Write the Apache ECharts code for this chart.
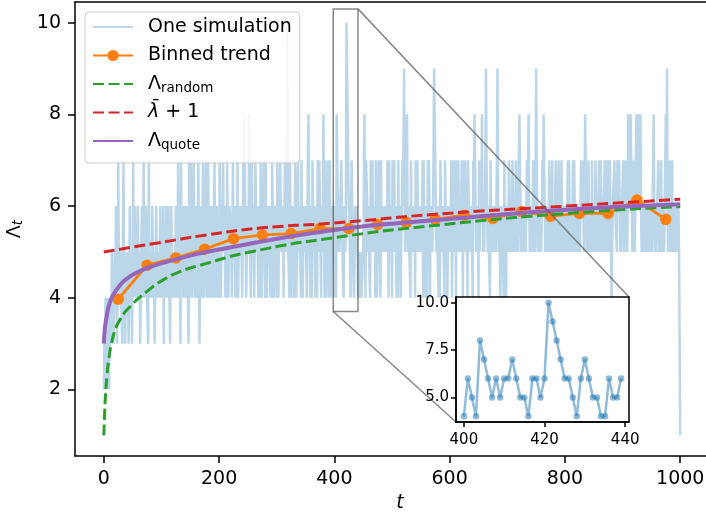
<!DOCTYPE html>
<html><head><meta charset="utf-8">
<script src="https://cdn.jsdelivr.net/npm/echarts@6/dist/echarts.min.js"></script>
<style>html,body{margin:0;padding:0;background:#fff}#c{width:706px;height:512px}</style>
</head><body><div id="c"></div>
<script>
// ---- data ----
const simValues = [
2,3,2,4,3,2,3,4,3,2, 3,4,4,3,5,4,4,3,4,5, 4,6,4,3,4,7,5,4,4,5, 4,4,3,5,7,5,4,3,4,5, 4,5,4,3,4,6,4,5,4,3,
5,7,4,5,6,4,5,4,4,6, 5,4,5,3,4,5,6,5,4,7, 5,4,5,6,5,4,4,3,7,5, 5,4,5,4,6,5,4,5,3,4, 5,6,4,4,4,5,4,4,6,4,
5,4,5,6,3,5,4,5,6,5, 4,5,6,5,4,3,5,6,5,4, 5,5,5,4,5,6,5,4,5,7, 5,4,5,3,7,5,6,5,4,5, 6,5,4,5,6,5,4,3,7,5,
4,7,5,4,5,6,7,5,4,5, 6,5,4,4,7,5,3,5,6,5, 4,4,7,5,4,5,6,7,5,4, 4,7,5,4,5,6,5,4,6,5, 4,4,7,5,4,5,6,5,4,5,
4,7,5,4,5,5,6,7,5,6, 5,4,6,4,7,5,4,5,6,6, 6,5,4,4,7,5,6,5,4,5, 6,4,7,4,5,6,6,5,6,5, 4,4,7,5,8,6,5,4,5,6,
6,5,8,6,5,4,4,7,5,6, 5,4,4,7,7,5,6,5,4,5, 6,4,7,5,4,5,6,7,6,5, 4,7,5,4,5,6,5,6,5,4, 6,4,7,7,5,4,5,6,5,6,
4,7,5,4,6,5,7,6,5,6, 5,6,4,4,7,5,7,5,10,6, 5,5,4,7,5,4,6,5,6,5, 4,4,7,5,4,5,6,7,5,6, 5,5,4,7,5,4,5,6,5,5,
6,5,4,4,7,8,6,5,4,5, 6,4,7,7,5,6,5,4,5,6, 4,7,5,6,7,6,5,4,6,5, 6,8,6,4,7,5,4,5,6,7, 6,4,7,5,4,5,6,5,6,5,
4,6,5,4,8,7,6,5,6,5, 6,6,7,6,5,5,4,6,6,5, 6,10,9,8,7,6,6,5,4,6, 7,6,5,5,4,4,6,5,5,6, 5,4,5,4,4,4,5,4,4,4,
5,6,8,6,4,7,7,6,5,6, 5,5,4,7,5,6,7,5,6,5, 6,4,7,5,4,5,6,7,6,5, 4,7,5,6,5,5,5,6,5,6, 6,5,7,6,4,7,5,5,6,5,
4,7,5,6,7,5,6,5,4,6, 4,7,5,6,5,4,5,6,7,6, 6,9,6,5,6,6,8,6,5,6, 5,5,4,7,5,6,5,5,5,6, 4,7,5,6,7,5,6,5,5,6,
6,5,6,7,4,7,5,6,4,5, 6,4,7,5,7,6,4,6,5,6, 5,6,7,9,8,7,6,5,6,5, 5,4,6,4,7,6,5,5,6,6, 6,4,7,7,5,6,4,5,6,6,
6,5,6,7,4,4,7,5,6,7, 6,4,7,5,6,7,6,5,6,5, 6,7,6,4,7,5,6,7,6,5, 6,4,7,6,5,6,6,5,6,6, 4,7,6,8,7,6,5,6,5,6,
4,7,5,6,7,6,8,6,5,6, 5,6,7,9,7,6,5,6,5,5, 4,7,5,5,5,6,5,6,5,6, 5,6,7,9,6,5,6,5,4,5, 6,6,5,5,4,7,5,5,4,6,
6,5,6,7,6,5,6,5,6,7, 6,5,6,5,6,7,6,5,6,5, 7,8,7,6,5,6,5,6,5,6, 5,6,5,6,7,6,7,8,6,5, 6,5,6,5,5,7,5,6,5,6,
9,7,6,5,6,5,6,5,6,5, 6,7,6,8,7,6,5,6,5,5, 6,5,5,7,5,6,5,5,7,5, 5,6,5,5,7,5,6,5,5,7, 6,5,6,5,7,6,5,5,6,5,
6,5,6,5,6,7,5,7,6,5, 5,6,5,5,7,5,7,6,5,6, 6,5,6,5,6,6,5,6,7,6, 6,7,6,5,6,8,7,6,5,6, 5,7,5,6,5,6,5,7,5,6,
6,5,6,7,6,5,6,5,5,7, 5,6,7,6,5,6,5,6,6,7, 5,7,6,5,5,7,5,6,7,6, 5,4,5,6,6,6,7,6,6,6, 5,7,6,6,7,6,5,6,5,6,
6,7,6,5,6,7,6,6,5,6, 8,7,6,7,8,7,6,5,6,7, 6,5,6,7,8,7,6,8,7,6, 7,8,6,5,6,5,6,5,6,5, 6,5,6,5,5,6,6,5,5,5,
6,5,6,7,8,6,5,6,5,5, 5,5,7,5,6,5,5,7,5,5, 5,6,5,6,7,8,6,9,6,5, 5,5,7,5,5,5,7,5,6,5, 6,5,6,5,6,6,5,6,5,5,
1
];
const binCenters = [25,75,125,175,225,275,325,375,425,475,525,575,625,675,725,775,825,875,925,975];
const binValues  = [3.97,4.71,4.87,5.06,5.29,5.37,5.40,5.51,5.51,5.60,5.64,5.71,5.80,5.73,5.88,5.78,5.84,5.84,6.13,5.71];
const randomT = [0,1.5,3,5.5,8,16,27.5,45,74,103,132,167,254,399,584,803,1000];
const randomV = [1.0,1.5,1.9,2.3,2.6,3.15,3.51,3.80,4.13,4.39,4.57,4.71,5.0,5.31,5.59,5.84,5.99];
const lbarT = [0,91,178,271,399,584,803,1000];
const lbarV = [5.0,5.19,5.37,5.52,5.63,5.83,6.0,6.15];
const quoteT = [0,1.5,3,4.3,10,21.7,44.8,73.7,102.6,131.5,178,399,584,803,1000];
const quoteV = [3.0,3.3,3.45,3.55,3.88,4.17,4.46,4.64,4.76,4.86,5.0,5.48,5.70,5.92,6.04];
const insetStart = 400, insetEnd = 440;
const xTicks = [0,200,400,600,800,1000];
const yTicks = [2,4,6,8,10];
const insetXTicks = [400,420,440];
const insetYTicks = [5,7.5,10];
const legendLabels = {
  'One simulation':'One simulation',
  'Binned trend':'Binned trend',
  'Lrandom':'{g|Λ}{s|random}',
  'Lbar':'{i|λ\u0304}{g| + 1}',
  'Lquote':'{g|Λ}{s|quote}'
};

// ---- layout ----
const FONT = 'DejaVu Sans';
const mainX = {min:-50, max:1077.7}, mainY = {min:0.55, max:10.45};
const insX = {min:398.05, max:440.95}, insY = {min:3.7, max:10.3};
const pairs = (t, v) => t.map((x, i) => [x, v[i]]);

const chart = echarts.init(document.getElementById('c'), null, {renderer:'canvas'});
const axisCommon = (ticks, fs, margin, tickLen, fmt) => ({
  axisLine:{show:true, onZero:false, lineStyle:{color:'#000', width:1.5}},
  axisTick:{show:true, length:tickLen, customValues:ticks, lineStyle:{color:'#000', width:1.5}},
  axisLabel:{customValues:ticks, fontSize:fs, color:'#000', fontFamily:FONT, margin:margin,
    formatter: fmt || (v => String(v))},
  splitLine:{show:false}
});
const noSym = {opacity:0};
const option = {
  animation:false,
  backgroundColor:'#fff',
  textStyle:{fontFamily:FONT},
  grid:[
    {left:75, top:2, width:650, height:454, show:false, outerBoundsMode:'none', containLabel:false},
    {left:456, top:297, width:173, height:125, show:false, z:10, outerBoundsMode:'none', containLabel:false}
  ],
  xAxis:[
    Object.assign({type:'value', gridIndex:0, min:mainX.min, max:mainX.max, position:'bottom',
      name:'t', nameLocation:'middle', nameGap:27,
      nameTextStyle:{fontSize:19, fontStyle:'italic', color:'#000', fontFamily:FONT}}, axisCommon(xTicks,19,14,7)),
    Object.assign({type:'value', gridIndex:1, min:insX.min, max:insX.max, z:10}, axisCommon(insetXTicks,15,11,5)),
    {type:'value', gridIndex:0, min:mainX.min, max:mainX.max, position:'top',
      axisLine:{show:true, onZero:false, lineStyle:{color:'#000', width:1.5}},
      axisTick:{show:false}, axisLabel:{show:false}, splitLine:{show:false}}
  ],
  yAxis:[
    Object.assign({type:'value', gridIndex:0, min:mainY.min, max:mainY.max,
      name:'{g|Λ}{t|t}', nameLocation:'middle', nameGap:44, nameRotate:90,
      nameTextStyle:{color:'#000', fontFamily:FONT, rich:{
        g:{fontSize:19, lineHeight:22, fontFamily:FONT, color:'#000'},
        t:{fontSize:13.5, lineHeight:16, verticalAlign:'bottom', fontStyle:'italic', fontFamily:FONT, color:'#000'}}}},
      axisCommon(yTicks,19,14,7)),
    Object.assign({type:'value', gridIndex:1, min:insY.min, max:insY.max, z:10},
      axisCommon(insetYTicks,15,7,5, v => v.toFixed(1)))
  ],
  legend:{
    data:[
      {name:'One simulation', itemStyle:noSym},
      {name:'Binned trend'},
      {name:'Lrandom', itemStyle:noSym},
      {name:'Lbar', itemStyle:noSym},
      {name:'Lquote', itemStyle:noSym}
    ],
    orient:'vertical', left:85, top:12,
    itemWidth:40, itemHeight:14, itemGap:6.5,
    padding:[4,8,11,7],
    backgroundColor:'rgba(255,255,255,0.8)', borderColor:'#cccccc', borderWidth:1, borderRadius:4,
    formatter:n => legendLabels[n],
    textStyle:{fontSize:19, fontFamily:FONT, color:'#000', lineHeight:22, padding:[0,0,0,10],
      rich:{
        g:{fontSize:19, lineHeight:22, fontFamily:FONT, color:'#000'},
        i:{fontSize:19, lineHeight:22, fontStyle:'italic', fontFamily:FONT, color:'#000'},
        s:{fontSize:13.5, lineHeight:16, verticalAlign:'bottom', fontFamily:FONT, color:'#000'}
      }}
  },
  series:[
    {name:'One simulation', type:'line', xAxisIndex:0, yAxisIndex:0, silent:true,
      data:simValues.map((v,i)=>[i,v]), showSymbol:false, symbol:'none',
      lineStyle:{color:'#1f77b4', width:2.5, opacity:0.3}, itemStyle:{color:'#1f77b4', opacity:0.3}, z:2},
    {name:'Binned trend', type:'line', xAxisIndex:0, yAxisIndex:0, silent:true,
      data:pairs(binCenters, binValues), symbol:'circle', symbolSize:11.5, showSymbol:true,
      lineStyle:{color:'#ff7f0e', width:2.8}, itemStyle:{color:'#ff7f0e'}, z:3},
    {name:'Lrandom', type:'line', xAxisIndex:0, yAxisIndex:0, silent:true,
      data:pairs(randomT, randomV), showSymbol:false, symbol:'none', smooth:0.5,
      lineStyle:{color:'#2ca02c', width:3, type:[11,4.5]}, itemStyle:{color:'#2ca02c'}, z:4},
    {name:'Lbar', type:'line', xAxisIndex:0, yAxisIndex:0, silent:true,
      data:pairs(lbarT, lbarV), showSymbol:false, symbol:'none', smooth:0.5,
      lineStyle:{color:'#d62728', width:3, type:[11,4.5]}, itemStyle:{color:'#d62728'}, z:4},
    {name:'Lquote', type:'line', xAxisIndex:0, yAxisIndex:0, silent:true,
      data:pairs(quoteT, quoteV), showSymbol:false, symbol:'none', smooth:0.5,
      lineStyle:{color:'#9467bd', width:4}, itemStyle:{color:'#9467bd'}, z:4},
    {name:'inset', type:'line', xAxisIndex:1, yAxisIndex:1, silent:true,
      data:simValues.slice(insetStart, insetEnd).map((v,i)=>[insetStart+i, v]),
      symbol:'circle', symbolSize:6.5, showSymbol:true,
      lineStyle:{color:'#1f77b4', width:2.5, opacity:0.5}, itemStyle:{color:'#1f77b4', opacity:0.5}, z:12}
  ]
};
chart.setOption(option);

const px = (g, x, y) => chart.convertToPixel({gridIndex:g}, [x, y]);
const r0 = px(0, insX.min, insY.max), r1 = px(0, insX.max, insY.min);
const i0 = px(1, insX.min, insY.max), i1 = px(1, insX.max, insY.min);
const gray = 'rgba(95,95,95,0.75)';
chart.setOption({graphic:{elements:[
  {type:'rect', z:8, silent:true, shape:{x:i0[0], y:i0[1], width:i1[0]-i0[0], height:i1[1]-i0[1]},
    style:{fill:'#fff', stroke:'#000', lineWidth:1.5}},
  {type:'rect', z:5, silent:true, shape:{x:r0[0], y:r0[1], width:r1[0]-r0[0], height:r1[1]-r0[1]},
    style:{fill:null, stroke:gray, lineWidth:1.5}},
  {type:'line', z:5, silent:true, shape:{x1:r1[0], y1:r0[1], x2:i1[0], y2:i0[1]}, style:{stroke:gray, lineWidth:1.5}},
  {type:'line', z:5, silent:true, shape:{x1:r0[0], y1:r1[1], x2:i0[0], y2:i1[1]}, style:{stroke:gray, lineWidth:1.5}}
]}});
</script>
</body></html>
